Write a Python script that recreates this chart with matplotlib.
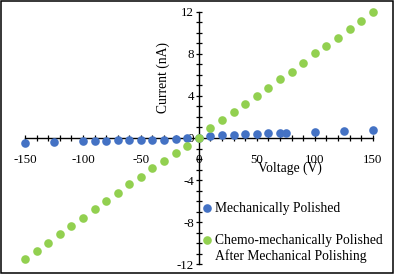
import matplotlib
matplotlib.use('Agg')
import matplotlib.pyplot as plt
from matplotlib.patches import Rectangle
from matplotlib.legend_handler import HandlerLine2D
from matplotlib.ticker import MultipleLocator

plt.rcParams['font.family'] = ['Liberation Serif', 'DejaVu Serif']
plt.rcParams['axes.unicode_minus'] = False

# Mechanically polished sample
mech_v = [-150, -125, -100, -90, -80, -70, -60, -50, -40, -30, -20, -10, 0,
          10, 20, 30, 40, 50, 60, 70, 75, 100, 125, 150]
mech_i = [-0.5, -0.35, -0.3, -0.27, -0.25, -0.23, -0.22, -0.2, -0.19, -0.15, -0.08, 0.0, 0.0,
          0.18, 0.26, 0.3, 0.37, 0.42, 0.45, 0.5, 0.52, 0.6, 0.69, 0.76]

# chemo-mechanically polished sample
chem_v = [-150, -140, -130, -120, -110, -100, -90, -80, -70, -60, -50, -40, -30, -20, -10, 0,
          10, 20, 30, 40, 50, 60, 70, 80, 90, 100, 110, 120, 130, 140, 150]
chem_i = [-11.52, -10.73, -9.94, -9.15, -8.36, -7.57, -6.74, -5.98, -5.19, -4.4, -3.68, -2.88,
          -2.18, -1.45, -0.76, 0.0,
          0.92, 1.71, 2.44, 3.2, 3.99, 4.78, 5.57, 6.3, 7.09, 8.1, 8.74, 9.52, 10.32, 11.14, 11.94]

xticks = [-150, -100, -50, 0, 50, 100, 150]
yticks = [-12, -8, -4, 0, 4, 8, 12]


class UpHandler(HandlerLine2D):
    # put the marker next to the first line of a two line label
    def __init__(self, shift=0.0, **kw):
        super().__init__(**kw)
        self.shift = shift

    def create_artists(self, legend, orig_handle, xdescent, ydescent, width, height, fontsize, trans):
        return super().create_artists(legend, orig_handle, xdescent, ydescent - self.shift * fontsize,
                                      width, height, fontsize, trans)


fig = plt.figure(figsize=(3.97, 2.77), dpi=100)
ax = fig.add_axes([25 / 397, 1 - 264.3 / 277, 347.7 / 397, 252.6 / 277])

l1, = ax.plot(mech_v, mech_i, 'o', color='#4472C4', markersize=6.2, markeredgewidth=0,
              label='Mechanically Polished', clip_on=False, zorder=3)
l2, = ax.plot(chem_v, chem_i, 'o', color='#92D050', markersize=6.2, markeredgewidth=0,
              label='Chemo-mechanically Polished\nAfter Mechanical Polishing', clip_on=False, zorder=4)

ax.set_xlim(-150, 150)
ax.set_ylim(-12, 12)
ax.set_xticks(xticks)
ax.set_yticks(yticks)
ax.xaxis.set_minor_locator(MultipleLocator(10))
ax.yaxis.set_minor_locator(MultipleLocator(1))

for s in ['top', 'right']:
    ax.spines[s].set_visible(False)
ax.spines['left'].set_position(('data', 0))
ax.spines['bottom'].set_position(('data', 0))
ax.spines['left'].set_linewidth(1.0)
ax.spines['bottom'].set_linewidth(1.0)
ax.tick_params(which='both', direction='inout', length=5, width=0.9, labelsize=9.3, pad=1)
ax.tick_params(axis='x', pad=9)
ax.patch.set_alpha(0)

ax.text(0.397, 0.741, 'Current (nA)', rotation=90, ha='center', va='center',
        fontsize=9.8, transform=ax.transAxes)
ax.text(0.762, 0.382, 'Voltage (V)', ha='center', va='center',
        fontsize=9.8, transform=ax.transAxes)

ax.legend(handles=[l1, l2], loc='upper left', bbox_to_anchor=(0.512, 0.245),
          frameon=False, fontsize=9.8, handlelength=0.6, handletextpad=0.25,
          borderpad=0, borderaxespad=0, labelspacing=1.35,
          handler_map={l2: UpHandler(shift=1.2)})

fig.patches.append(Rectangle((0.5 / 397, 4.5 / 277), 392 / 397, 272 / 277, transform=fig.transFigure,
                             fill=False, edgecolor='black', linewidth=1.1))

fig.savefig('out.png', dpi=100)
